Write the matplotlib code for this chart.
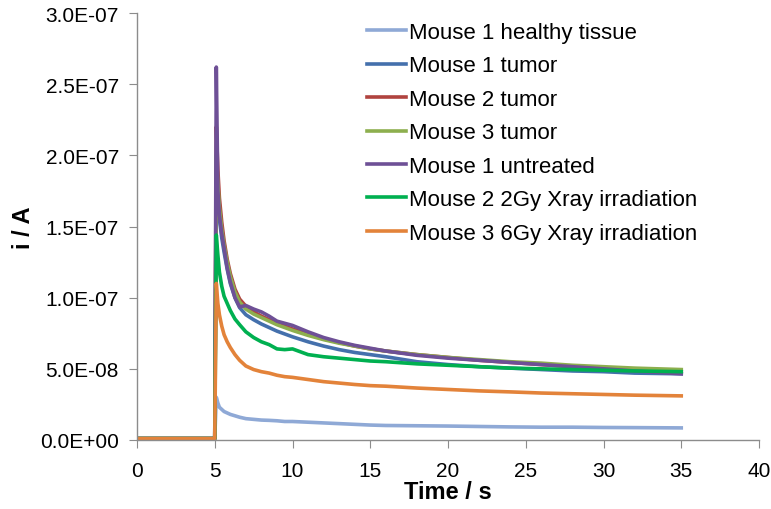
import numpy as np
import matplotlib.pyplot as plt
from matplotlib.ticker import FuncFormatter, MultipleLocator

plt.rcParams["font.family"] = ["Liberation Sans", "DejaVu Sans"]

# time axis (s)
t = [0, 5.0, 5.1, 5.2, 5.3, 5.45, 5.6, 5.8, 6.0, 6.3, 6.6, 7.0, 7.5, 8.0, 8.5,
     9.0, 9.5, 10, 11, 12, 13, 14, 15, 16, 18, 20, 22, 24, 26, 28, 30, 32, 35]

# currents, in units of 1e-8 A
healthy_m1 = [0.1, 0.1, 3.0, 2.6, 2.3, 2.15, 2.0, 1.9, 1.8, 1.7, 1.6, 1.5, 1.45, 1.4, 1.38,
              1.35, 1.3, 1.3, 1.25, 1.2, 1.15, 1.1, 1.05, 1.02, 1.0, 0.98, 0.95, 0.92, 0.9, 0.9, 0.88, 0.87, 0.85]
tumor_m1 = [0.1, 0.1, 19.0, 17.0, 15.5, 14.2, 13.2, 12.0, 11.0, 10.0, 9.3, 8.8, 8.45, 8.15, 7.9,
            7.65, 7.45, 7.25, 6.9, 6.6, 6.35, 6.15, 6.0, 5.85, 5.5, 5.3, 5.15, 5.05, 4.95, 4.85, 4.8, 4.7, 4.65]
tumor_m2 = [0.1, 0.1, 22.0, 19.0, 17.0, 15.3, 14.0, 12.7, 11.7, 10.6, 9.9, 9.4, 9.0, 8.7, 8.45,
            8.2, 8.0, 7.8, 7.45, 7.1, 6.85, 6.6, 6.4, 6.25, 6.0, 5.8, 5.6, 5.45, 5.3, 5.15, 5.05, 4.95, 4.8]
tumor_m3 = [0.1, 0.1, 20.0, 18.0, 16.3, 14.8, 13.7, 12.5, 11.5, 10.4, 9.7, 9.2, 8.85, 8.6, 8.35,
            8.1, 7.9, 7.7, 7.35, 7.05, 6.8, 6.6, 6.4, 6.25, 6.0, 5.8, 5.65, 5.5, 5.4, 5.25, 5.15, 5.05, 4.95]
untreated_m1 = [0.1, 0.1, 26.2, 17.5, 15.8, 14.5, 13.5, 12.1, 11.1, 10.0, 9.35, 9.45, 9.2, 9.0, 8.7,
                8.35, 8.2, 8.05, 7.6, 7.2, 6.9, 6.65, 6.45, 6.25, 5.95, 5.75, 5.6, 5.45, 5.3, 5.15, 5.0, 4.85, 4.65]
gy2_m2 = [0.1, 0.1, 14.4, 13.0, 11.8, 10.8, 10.1, 9.6, 9.1, 8.5, 8.1, 7.6, 7.2, 6.9, 6.7,
          6.4, 6.35, 6.4, 6.0, 5.85, 5.75, 5.65, 5.55, 5.5, 5.35, 5.25, 5.15, 5.05, 5.0, 4.95, 4.9, 4.85, 4.8]
gy6_m3 = [0.1, 0.1, 11.0, 9.6, 8.8, 8.0, 7.4, 6.9, 6.5, 6.0, 5.6, 5.2, 4.95, 4.8, 4.7,
          4.55, 4.45, 4.4, 4.25, 4.1, 4.0, 3.9, 3.82, 3.78, 3.65, 3.55, 3.45, 3.38, 3.3, 3.25, 3.2, 3.15, 3.1]

labels = ["Mouse 1 healthy tissue", "Mouse 1 tumor", "Mouse 2 tumor", "Mouse 3 tumor",
          "Mouse 1 untreated", "Mouse 2 2Gy Xray irradiation", "Mouse 3 6Gy Xray irradiation"]
colors = ["#8FA9D6", "#4470AC", "#B0433F", "#8DAF4E", "#6E5096", "#00B050", "#E3833A"]
series = [healthy_m1, tumor_m1, tumor_m2, tumor_m3, untreated_m1, gy2_m2, gy6_m3]

fig = plt.figure(figsize=(7.71, 5.10), dpi=100)
ax = fig.add_axes([137 / 771, 69 / 510, 622 / 771, 427 / 510])

for vals, lab, col in zip(series, labels, colors):
    ax.plot(t, np.array(vals) * 1e-8, color=col, lw=2.6, label=lab, solid_joinstyle="round")

ax.set_xlim(0, 40)
ax.set_ylim(0, 3e-7)
ax.xaxis.set_major_locator(MultipleLocator(5))
ax.yaxis.set_major_locator(MultipleLocator(5e-8))
ax.yaxis.set_major_formatter(FuncFormatter(lambda v, p: f"{v:.1E}"))
ax.xaxis.set_major_formatter(FuncFormatter(lambda v, p: f"{v:g}"))

for s in ["top", "right"]:
    ax.spines[s].set_visible(False)
for s in ["left", "bottom"]:
    ax.spines[s].set_color("#8C8C8C")
    ax.spines[s].set_linewidth(1)
ax.tick_params(direction="out", length=6, color="#8C8C8C", labelsize=15)
ax.tick_params(axis="x", pad=9)
ax.tick_params(axis="y", pad=7)

ax.set_xlabel("Time / s", fontsize=17, fontweight="bold", labelpad=0)
ax.set_ylabel("i / A", fontsize=17, fontweight="bold", labelpad=4)

ax.legend(loc="upper left", bbox_to_anchor=(367 / 771, 1 - 23 / 510), bbox_transform=fig.transFigure,
          frameon=False, fontsize=16, handlelength=1.75, handletextpad=0.15,
          labelspacing=0.56, borderpad=0, borderaxespad=0)

fig.savefig("out.png", dpi=100)
